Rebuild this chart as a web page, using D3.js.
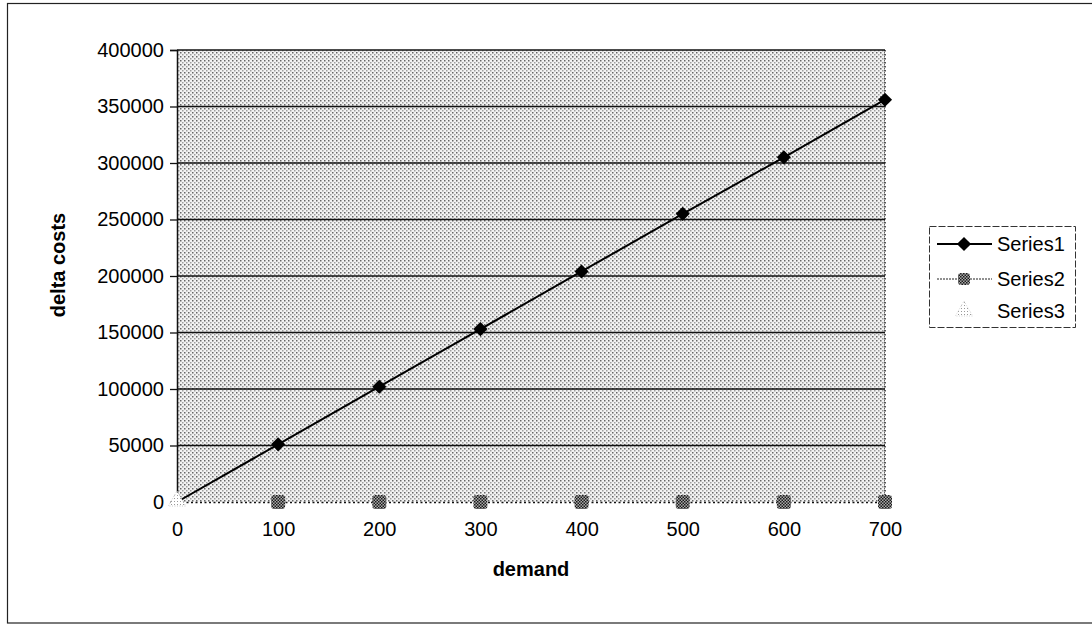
<!DOCTYPE html>
<html>
<head>
<meta charset="utf-8">
<script src="https://cdn.jsdelivr.net/npm/d3@7"></script>
<style>
  html, body { margin: 0; padding: 0; background: #fff; }
  svg text { font-family: "Liberation Sans", Arial, sans-serif; fill: #000; }
</style>
</head>
<body>
<svg id="chart" width="1092" height="625"></svg>
<script>
// demand levels on the x axis
const demand = [0, 100, 200, 300, 400, 500, 600, 700];
// delta costs for each series
const series1 = [0, 51000, 102000, 153000, 204000, 255000, 305000, 356000];
const series2 = [null, 0, 0, 0, 0, 0, 0, 0];
const series3 = [0, null, null, null, null, null, null, null];
const yTicks = [0, 50000, 100000, 150000, 200000, 250000, 300000, 350000, 400000];
const xTicks = [0, 100, 200, 300, 400, 500, 600, 700];
const seriesNames = ["Series1", "Series2", "Series3"];

const svg = d3.select("#chart");
const plot = { left: 177, top: 50, right: 885, bottom: 502 };
const fontSize = "20px";

const x = d3.scaleLinear().domain([0, 700]).range([plot.left, plot.right]);
const y = d3.scaleLinear().domain([0, 400000]).range([plot.bottom, plot.top]);

const defs = svg.append("defs");
// stippled fill for the plot area
const pat = defs.append("pattern").attr("id", "stipple")
  .attr("width", 4).attr("height", 4).attr("patternUnits", "userSpaceOnUse");
pat.append("rect").attr("width", 4).attr("height", 4).attr("fill", "#f2f2f2");
pat.append("rect").attr("x", 0).attr("y", 0).attr("width", 1.5).attr("height", 1.5).attr("fill", "#666");
pat.append("rect").attr("x", 2).attr("y", 2).attr("width", 1.5).attr("height", 1.5).attr("fill", "#9e9e9e");
// checkered fill for the Series2 marker
const chk = defs.append("pattern").attr("id", "checker")
  .attr("width", 3).attr("height", 3).attr("patternUnits", "userSpaceOnUse");
chk.append("rect").attr("width", 3).attr("height", 3).attr("fill", "#a8a8a8");
chk.append("rect").attr("width", 1.5).attr("height", 1.5).attr("fill", "#1a1a1a");
chk.append("rect").attr("x", 1.5).attr("y", 1.5).attr("width", 1.5).attr("height", 1.5).attr("fill", "#1a1a1a");
// faint dotted fill for the Series3 marker
const dt = defs.append("pattern").attr("id", "faint")
  .attr("width", 3).attr("height", 3).attr("patternUnits", "userSpaceOnUse");
dt.append("rect").attr("width", 3).attr("height", 3).attr("fill", "#fff");
dt.append("rect").attr("width", 1).attr("height", 1).attr("fill", "#999");

// outer chart frame (right edge falls outside the view)
svg.append("rect").attr("x", 7.5).attr("y", 3.5).attr("width", 1100).attr("height", 619.5)
  .attr("fill", "none").attr("stroke", "#222").attr("stroke-width", 1.2);

// plot area background
svg.append("rect")
  .attr("x", plot.left).attr("y", plot.top)
  .attr("width", plot.right - plot.left).attr("height", plot.bottom - plot.top)
  .attr("fill", "url(#stipple)");

// right border of plot area (dotted)
svg.append("line")
  .attr("x1", plot.right).attr("x2", plot.right).attr("y1", plot.top).attr("y2", plot.bottom)
  .attr("stroke", "#222").attr("stroke-width", 1.5).attr("stroke-dasharray", "1.5,2.5");

// horizontal gridlines
svg.append("g").selectAll("line").data(yTicks.filter(d => d > 0)).join("line")
  .attr("x1", plot.left).attr("x2", plot.right)
  .attr("y1", d => y(d)).attr("y2", d => y(d))
  .attr("stroke", "#111").attr("stroke-width", 1.3);

// y axis
const yAxis = svg.append("g")
  .attr("transform", `translate(${plot.left},0)`)
  .call(d3.axisLeft(y).tickValues(yTicks).tickFormat(d3.format("d")).tickSize(7).tickPadding(6));
yAxis.select(".domain").attr("stroke", "#111").attr("stroke-width", 1.5);
yAxis.selectAll(".tick line").attr("stroke", "#111").attr("stroke-width", 1.3);
yAxis.selectAll("text").style("font-size", fontSize).attr("fill", "#000");

// x axis (dotted baseline)
const xAxis = svg.append("g")
  .attr("transform", `translate(0,${plot.bottom})`)
  .call(d3.axisBottom(x).tickValues(xTicks).tickFormat(d3.format("d")).tickSize(0).tickPadding(20));
xAxis.select(".domain").attr("stroke", "#111").attr("stroke-width", 1.6).attr("stroke-dasharray", "2,2.5");
xAxis.selectAll("text").style("font-size", fontSize).attr("fill", "#000");

// axis titles
svg.append("text").attr("x", (plot.left + plot.right) / 2).attr("y", 576)
  .attr("text-anchor", "middle").style("font-size", fontSize).style("font-weight", "bold")
  .text("demand");
svg.append("text")
  .attr("transform", `translate(65,265) rotate(-90)`)
  .attr("text-anchor", "middle").style("font-size", fontSize).style("font-weight", "bold")
  .text("delta costs");

// Series1 line
const pts1 = demand.map((d, i) => [d, series1[i]]).filter(p => p[1] !== null);
svg.append("path")
  .attr("d", d3.line().x(p => x(p[0])).y(p => y(p[1]))(pts1))
  .attr("fill", "none").attr("stroke", "#000").attr("stroke-width", 2);

// diamond marker: square turned 45 degrees
const square = d3.symbol().type(d3.symbolSquare).size(100);
svg.append("g").selectAll("path").data(pts1.filter(p => p[0] > 0)).join("path")
  .attr("transform", p => `translate(${x(p[0])},${y(p[1])}) rotate(45)`)
  .attr("d", square).attr("fill", "#000");

// Series2 markers
const pts2 = demand.map((d, i) => [d, series2[i]]).filter(p => p[1] !== null);
svg.append("g").selectAll("rect").data(pts2).join("rect")
  .attr("x", p => x(p[0]) - 7).attr("y", p => y(p[1]) - 7)
  .attr("width", 14).attr("height", 14).attr("rx", 3)
  .attr("fill", "url(#checker)");

// Series3 marker
const pts3 = demand.map((d, i) => [d, series3[i]]).filter(p => p[1] !== null);
const tri = d3.symbol().type(d3.symbolTriangle).size(130);
svg.append("g").selectAll("path").data(pts3).join("path")
  .attr("transform", p => `translate(${x(p[0])},${y(p[1]) - 1})`)
  .attr("d", tri).attr("fill", "url(#faint)").attr("stroke", "#bbb").attr("stroke-width", 0.8)
  .attr("stroke-dasharray", "1,1.5");

// legend
const lg = svg.append("g");
lg.append("rect").attr("x", 929.5).attr("y", 226.5).attr("width", 146).attr("height", 101)
  .attr("fill", "#fff").attr("stroke", "#333").attr("stroke-width", 1).attr("stroke-dasharray", "7,2");
const rowY = [244, 279, 311];
seriesNames.forEach((name, i) => {
  const yy = rowY[i];
  if (i === 0) {
    lg.append("line").attr("x1", 937).attr("x2", 992).attr("y1", yy).attr("y2", yy)
      .attr("stroke", "#000").attr("stroke-width", 2);
    lg.append("path").attr("transform", `translate(964,${yy}) rotate(45)`).attr("d", square).attr("fill", "#000");
  } else if (i === 1) {
    lg.append("line").attr("x1", 937).attr("x2", 992).attr("y1", yy).attr("y2", yy)
      .attr("stroke", "#222").attr("stroke-width", 1).attr("stroke-dasharray", "2,1");
    lg.append("rect").attr("x", 958).attr("y", yy - 6).attr("width", 12).attr("height", 12)
      .attr("rx", 3).attr("fill", "url(#checker)");
  } else {
    lg.append("path").attr("transform", `translate(964,${yy})`).attr("d", tri)
      .attr("fill", "url(#faint)").attr("stroke", "#ccc").attr("stroke-width", 0.8)
      .attr("stroke-dasharray", "1,1.5");
  }
  lg.append("text").attr("x", 997).attr("y", yy + 7).style("font-size", fontSize).text(name);
});
</script>
</body>
</html>
